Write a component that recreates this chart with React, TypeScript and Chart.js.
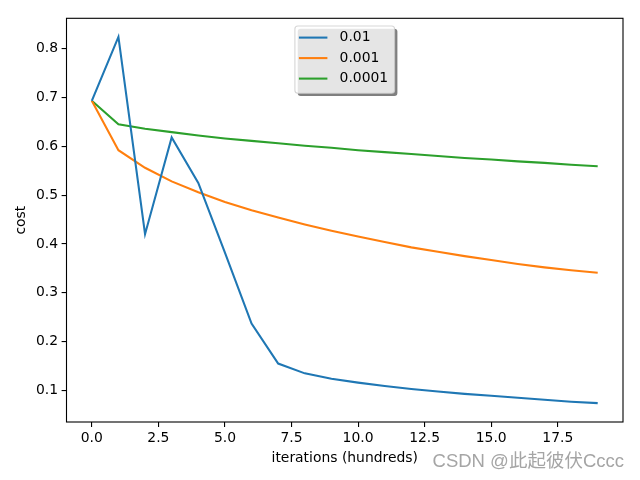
import React, { useEffect, useRef } from "react";
import { Chart, registerables } from "chart.js";

Chart.register(...registerables);

// ---- data ----
const iterations = [0, 1, 2, 3, 4, 5, 6, 7, 8, 9, 10, 11, 12, 13, 14, 15, 16, 17, 18, 19];
const costLr001 = [0.693, 0.824, 0.42, 0.618, 0.525, 0.382, 0.237, 0.155, 0.135, 0.124, 0.116, 0.109, 0.103, 0.098, 0.093, 0.089, 0.085, 0.081, 0.077, 0.074];
const costLr0001 = [0.693, 0.592, 0.556, 0.528, 0.506, 0.486, 0.469, 0.454, 0.44, 0.427, 0.415, 0.404, 0.393, 0.384, 0.375, 0.367, 0.359, 0.352, 0.346, 0.341];
const costLr00001 = [0.693, 0.645, 0.636, 0.629, 0.622, 0.616, 0.611, 0.606, 0.601, 0.597, 0.592, 0.588, 0.584, 0.58, 0.576, 0.573, 0.569, 0.566, 0.562, 0.559];
const seriesLabels = ["0.01", "0.001", "0.0001"];
const seriesColors = ["#1f77b4", "#ff7f0e", "#2ca02c"];
const xTicks = [0, 2.5, 5, 7.5, 10, 12.5, 15, 17.5];
const yTicks = [0.1, 0.2, 0.3, 0.4, 0.5, 0.6, 0.7, 0.8];
const xLabel = "iterations (hundreds)";
const yLabel = "cost";
const watermark = "CSDN @此起彼伏Cccc";

const FONT = "'DejaVu Sans', sans-serif";
const FS = 13.9;

function roundRect(ctx: CanvasRenderingContext2D, x: number, y: number, w: number, h: number, r: number) {
  ctx.beginPath();
  ctx.moveTo(x + r, y);
  ctx.lineTo(x + w - r, y);
  ctx.quadraticCurveTo(x + w, y, x + w, y + r);
  ctx.lineTo(x + w, y + h - r);
  ctx.quadraticCurveTo(x + w, y + h, x + w - r, y + h);
  ctx.lineTo(x + r, y + h);
  ctx.quadraticCurveTo(x, y + h, x, y + h - r);
  ctx.lineTo(x, y + r);
  ctx.quadraticCurveTo(x, y, x + r, y);
  ctx.closePath();
}

const framePlugin = {
  id: "mplFrame",
  afterDraw(chart: any) {
    const { ctx, chartArea } = chart;
    ctx.save();
    ctx.strokeStyle = "#000";
    ctx.lineWidth = 1.1;
    ctx.strokeRect(chartArea.left, chartArea.top, chartArea.right - chartArea.left, chartArea.bottom - chartArea.top);
    ctx.restore();
  },
};

const legendPlugin = {
  id: "mplLegend",
  afterDraw(chart: any) {
    const { ctx, chartArea } = chart;
    const w = 99.7;
    const h = 67.3;
    const cx = (chartArea.left + chartArea.right) / 2;
    const x0 = cx - w / 2;
    const y0 = chartArea.top + 7.7;
    ctx.save();
    // shadow
    roundRect(ctx, x0 + 2.8, y0 + 2.8, w, h, 3);
    ctx.fillStyle = "rgba(0,0,0,0.5)";
    ctx.fill();
    // box
    roundRect(ctx, x0, y0, w, h, 3);
    ctx.fillStyle = "rgba(255,255,255,0.8)";
    ctx.fill();
    ctx.strokeStyle = "rgba(204,204,204,0.8)";
    ctx.lineWidth = 1.1;
    ctx.stroke();
    ctx.font = `${FS}px ${FONT}`;
    ctx.textBaseline = "middle";
    ctx.textAlign = "left";
    chart.data.datasets.forEach((ds: any, i: number) => {
      const yy = y0 + 11.6 + i * 20.5;
      ctx.strokeStyle = ds.borderColor;
      ctx.lineWidth = 2.08;
      ctx.beginPath();
      ctx.moveTo(x0 + 4, yy);
      ctx.lineTo(x0 + 32.5, yy);
      ctx.stroke();
      ctx.fillStyle = "#000";
      ctx.fillText(ds.label, x0 + 44.7, yy);
    });
    ctx.restore();
  },
};

const watermarkPlugin = {
  id: "watermark",
  afterDraw(chart: any) {
    const { ctx } = chart;
    ctx.save();
    ctx.font = `18.5px 'Liberation Sans', 'Noto Sans CJK SC', sans-serif`;
    ctx.textAlign = "right";
    ctx.textBaseline = "middle";
    ctx.fillStyle = "rgb(165,165,165)";
    ctx.fillText(watermark, 624, 462);
    ctx.restore();
  },
};

export default function App() {
  const ref = useRef<HTMLCanvasElement | null>(null);

  useEffect(() => {
    if (!ref.current) return;
    const series = [costLr001, costLr0001, costLr00001];
    const chart = new Chart(ref.current, {
      type: "line",
      data: {
        datasets: series.map((vals, i) => ({
          label: seriesLabels[i],
          data: iterations.map((x, j) => ({ x, y: vals[j] })),
          borderColor: seriesColors[i],
          backgroundColor: seriesColors[i],
          borderWidth: 2.08,
          pointRadius: 0,
          pointHoverRadius: 0,
          tension: 0,
          fill: false,
        })),
      },
      options: {
        animation: false,
        responsive: false,
        devicePixelRatio: 1,
        events: [],
        layout: { padding: { left: 0, right: 17, top: 18.3, bottom: 0 } },
        plugins: {
          legend: { display: false },
          tooltip: { enabled: false },
        },
        scales: {
          x: {
            type: "linear",
            min: -0.95,
            max: 19.95,
            afterBuildTicks: (scale: any) => {
              scale.ticks = xTicks.map((v) => ({ value: v }));
            },
            afterFit: (scale: any) => {
              scale.height = 58;
            },
            ticks: {
              color: "#000",
              font: { family: FONT, size: FS },
              padding: 3,
              maxRotation: 0,
              autoSkip: false,
              callback: (v: any) => Number(v).toFixed(1),
            },
            grid: { drawOnChartArea: false, drawTicks: true, tickLength: 4.9, color: "#000", lineWidth: 1.1 },
            border: { display: false },
            title: {
              display: true,
              text: xLabel,
              color: "#000",
              font: { family: FONT, size: FS },
              padding: { top: 0, bottom: 13.7 },
            },
          },
          y: {
            type: "linear",
            min: 0.0354,
            max: 0.862,
            afterBuildTicks: (scale: any) => {
              scale.ticks = yTicks.map((v) => ({ value: v }));
            },
            afterFit: (scale: any) => {
              scale.width = 66.5;
            },
            ticks: {
              color: "#000",
              font: { family: FONT, size: FS },
              padding: 3.6,
              autoSkip: false,
              callback: (v: any) => Number(v).toFixed(1),
            },
            grid: { drawOnChartArea: false, drawTicks: true, tickLength: 4.9, color: "#000", lineWidth: 1.1 },
            border: { display: false },
            title: {
              display: true,
              text: yLabel,
              color: "#000",
              font: { family: FONT, size: FS },
              padding: { top: 13.4, bottom: 0 },
            },
          },
        },
      },
      plugins: [framePlugin, legendPlugin, watermarkPlugin],
    });
    return () => chart.destroy();
  }, []);

  return (
    <div style={{ position: "fixed", left: 0, top: 0, width: 640, height: 480, background: "#fff" }}>
      <canvas ref={ref} width={640} height={480} />
    </div>
  );
}
